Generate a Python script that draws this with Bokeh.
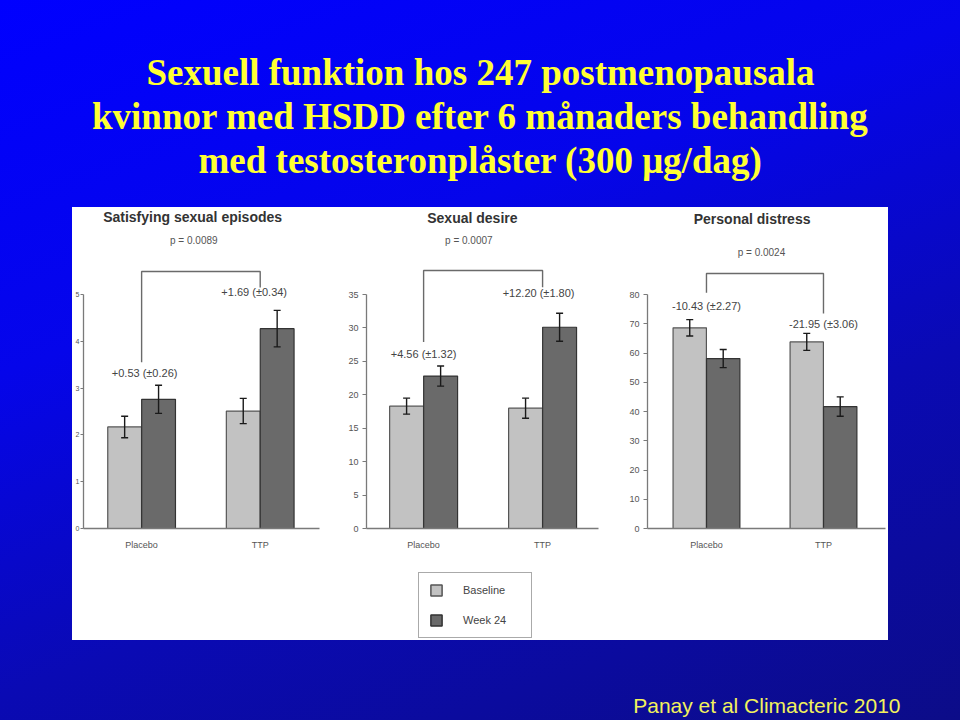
from bokeh.plotting import figure
from bokeh.layouts import row, column, Spacer
from bokeh.models import (ColumnDataSource, Range1d, FixedTicker, Whisker, TeeHead,
                          Legend, LegendItem)
from bokeh.core.properties import value
from bokeh.embed import file_html
from bokeh.resources import INLINE

# ---------------- data ----------------
title_lines = ["Sexuell funktion hos 247 postmenopausala",
               "kvinnor med HSDD efter 6 månaders behandling",
               "med testosteronplåster (300 μg/dag)"]
citation = "Panay et al Climacteric 2010"

groups = ["Placebo", "TTP"]
series_names = ["Baseline", "Week 24"]
panel_titles = ["Satisfying sexual episodes", "Sexual desire", "Personal distress"]
p_values = ["p = 0.0089", "p = 0.0007", "p = 0.0024"]

sse_baseline = [2.17, 2.51]
sse_baseline_err = [0.23, 0.27]
sse_week24 = [2.76, 4.27]
sse_week24_err = [0.30, 0.39]
sse_change = ["+0.53 (±0.26)", "+1.69 (±0.34)"]

desire_baseline = [18.3, 18.0]
desire_baseline_err = [1.2, 1.5]
desire_week24 = [22.8, 30.1]
desire_week24_err = [1.5, 2.1]
desire_change = ["+4.56 (±1.32)", "+12.20 (±1.80)"]

distress_baseline = [68.6, 63.8]
distress_baseline_err = [2.8, 2.9]
distress_week24 = [58.1, 41.7]
distress_week24_err = [3.1, 3.3]
distress_change = ["-10.43 (±2.27)", "-21.95 (±3.06)"]

y_max = [5, 35, 80]
y_step = [1, 5, 10]

# ---------------- styles / layout ----------------
SANS = "Liberation Sans"
SERIF = "Liberation Serif"
BASE_FILL, BASE_LINE = "#c2c2c2", "#555555"
WK_FILL, WK_LINE = "#6a6a6a", "#333333"
AXIS_C = "#7a7a7a"
TEXT_C = "#444444"

FIG_W = [268, 275, 273]
BORDER_L = [7, 26, 32]
BORDER_R = [21, 17, 3]
X_RANGES = [(-0.49, 1.50), (-0.48, 1.47), (-0.504, 1.53)]
FIG_H, BORDER_B = 350, 29
FRAME_H = FIG_H - BORDER_B
AXIS_PX = 234            # pixel height of the labelled axis span
BAR_W = 0.285
DODGE = 0.143

TITLE_X = [0.43, 0.41, 0.39]
TITLE_OFF = [9, 10, 11]
P_X = [0.44, 0.38, 0.47]
P_OFF = [33, 33, 45]
LABEL_UP = [[12, 18], [12, 20], [14, 9]]      # px above highest error bar
LABEL_DX = [[3, -6], [0, -4], [0, 0]]
BRACKET_TOP = [64, 63, 66]                    # px below frame top
BRACKET_GAP = [[11, 5], [12, 6], [13, 11]]    # px above label centre

datasets = [
    (sse_baseline, sse_baseline_err, sse_week24, sse_week24_err, sse_change),
    (desire_baseline, desire_baseline_err, desire_week24, desire_week24_err, desire_change),
    (distress_baseline, distress_baseline_err, distress_week24, distress_week24_err, distress_change),
]


def make_chart(k):
    base, base_err, wk, wk_err, changes = datasets[k]
    ymax = y_max[k]
    ppu = AXIS_PX / ymax
    y_end = FRAME_H / ppu
    p = figure(width=FIG_W[k], height=FIG_H, x_range=Range1d(*X_RANGES[k]),
               y_range=Range1d(0, y_end), output_backend="svg", toolbar_location=None,
               min_border=0)
    p.min_border_left = BORDER_L[k]
    p.min_border_right = BORDER_R[k]
    p.min_border_bottom = BORDER_B
    p.min_border_top = 0
    p.border_fill_color = "white"
    p.background_fill_color = "white"
    p.outline_line_color = None
    p.grid.visible = False

    idx = list(range(len(groups)))
    src = ColumnDataSource(dict(
        xb=[i - DODGE for i in idx], xw=[i + DODGE for i in idx],
        base=base, wk=wk,
        base_lo=[v - e for v, e in zip(base, base_err)],
        base_hi=[v + e for v, e in zip(base, base_err)],
        wk_lo=[v - e for v, e in zip(wk, wk_err)],
        wk_hi=[v + e for v, e in zip(wk, wk_err)],
    ))
    p.vbar(x="xb", top="base", width=BAR_W, source=src, fill_color=BASE_FILL,
           line_color=BASE_LINE, line_width=1.2)
    p.vbar(x="xw", top="wk", width=BAR_W, source=src, fill_color=WK_FILL,
           line_color=WK_LINE, line_width=1.2)
    for b, lo, hi in (("xb", "base_lo", "base_hi"), ("xw", "wk_lo", "wk_hi")):
        w = Whisker(source=src, base=b, lower=lo, upper=hi, dimension="height",
                    line_color="#1a1a1a", line_width=1.4, level="overlay",
                    upper_head=TeeHead(size=7, line_color="#1a1a1a", line_width=1.4),
                    lower_head=TeeHead(size=7, line_color="#1a1a1a", line_width=1.4))
        p.add_layout(w)

    # change labels above each group
    tops = [max(b + be, w + we) for b, be, w, we in zip(base, base_err, wk, wk_err)]
    lab_y = [t + up / ppu for t, up in zip(tops, LABEL_UP[k])]
    lab_src = ColumnDataSource(dict(x=idx, y=lab_y, t=changes, dx=LABEL_DX[k]))
    p.text(x="x", y="y", text="t", x_offset="dx", source=lab_src,
           text_align="center", text_baseline="middle", text_font=value(SANS),
           text_font_size="11px", text_color=TEXT_C)

    # bracket linking the two groups
    top_y = y_end - BRACKET_TOP[k] / ppu
    ends = [ly + g / ppu for ly, g in zip(lab_y, BRACKET_GAP[k])]
    p.line(x=[idx[0], idx[0], idx[1], idx[1]], y=[ends[0], top_y, top_y, ends[1]],
           line_color="#6a6a6a", line_width=1.4)

    # panel title and p-value
    p.text(x=[TITLE_X[k]], y=[y_end], text=[panel_titles[k]], y_offset=TITLE_OFF[k],
           text_align="center", text_baseline="middle", text_font=value(SANS),
           text_font_style="bold", text_font_size="14px", text_color="#333333")
    p.text(x=[P_X[k]], y=[y_end], text=[p_values[k]], y_offset=P_OFF[k],
           text_align="center", text_baseline="middle", text_font=value(SANS),
           text_font_size="10px", text_color="#555555")

    # axes
    p.yaxis.ticker = FixedTicker(ticks=list(range(0, ymax + 1, y_step[k])))
    p.yaxis.bounds = (0, ymax)
    p.yaxis.axis_line_color = AXIS_C
    p.yaxis.axis_line_width = 1.3
    p.yaxis.major_tick_line_color = AXIS_C
    p.yaxis.major_tick_out = 4
    p.yaxis.major_tick_in = 0
    p.yaxis.minor_tick_line_color = None
    p.yaxis.major_label_text_font = SANS
    p.yaxis.major_label_text_font_size = "9px"
    p.yaxis.major_label_text_color = "#555555"
    p.yaxis.major_label_standoff = 4
    if k == 0:
        # labels of the first panel are mostly cut off at the panel edge
        p.yaxis.major_tick_out = 3
        p.yaxis.major_label_standoff = 1
        p.yaxis.major_label_text_font_size = "7px"

    p.xaxis.ticker = FixedTicker(ticks=idx)
    p.xaxis.major_label_overrides = {i: g for i, g in zip(idx, groups)}
    p.xaxis.axis_line_color = AXIS_C
    p.xaxis.axis_line_width = 1.3
    p.xaxis.major_tick_line_color = None
    p.xaxis.minor_tick_line_color = None
    p.xaxis.major_label_text_font = SANS
    p.xaxis.major_label_text_font_size = "9px"
    p.xaxis.major_label_text_color = "#555555"
    p.xaxis.major_label_standoff = 5
    return p


charts = [make_chart(k) for k in range(3)]

# legend panel
nan = float("nan")
lg = figure(width=sum(FIG_W), height=83, x_range=Range1d(0, 1), y_range=Range1d(0, 1),
            output_backend="svg", toolbar_location=None, min_border=0,
            x_axis_location=None, y_axis_location=None)
lg.grid.visible = False
lg.outline_line_color = None
lg.border_fill_color = "white"
lg.background_fill_color = "white"
r1 = lg.quad(left=[nan], right=[nan], top=[nan], bottom=[nan], fill_color=BASE_FILL,
             line_color=BASE_LINE, line_width=1.5)
r2 = lg.quad(left=[nan], right=[nan], top=[nan], bottom=[nan], fill_color=WK_FILL,
             line_color=WK_LINE, line_width=1.5)
legend = Legend(items=[LegendItem(label=series_names[0], renderers=[r1]),
                       LegendItem(label=series_names[1], renderers=[r2])],
                location=(346, 2), orientation="vertical", padding=10, spacing=16,
                margin=0, glyph_width=14, glyph_height=14, label_standoff=20,
                label_width=58, label_height=14, border_line_color="#555555",
                border_line_width=1, label_text_font=SANS, label_text_font_size="11px",
                label_text_color=TEXT_C, background_fill_color="white")
lg.add_layout(legend, "center")

# title band
tf = figure(width=960, height=207, x_range=Range1d(0, 960), y_range=Range1d(207, 0),
            output_backend="svg", toolbar_location=None, min_border=0,
            x_axis_location=None, y_axis_location=None)
tf.grid.visible = False
tf.outline_line_color = None
tf.border_fill_color = None
tf.background_fill_color = None
tf.text(x=[480] * 3, y=[72, 116, 160], text=title_lines, text_align="center",
        text_baseline="alphabetic", text_font=value(SERIF), text_font_style="bold",
        text_font_size="37px", text_color="#FFFF33")

# bottom band with citation
bf = figure(width=960, height=80, x_range=Range1d(0, 960), y_range=Range1d(720, 640),
            output_backend="svg", toolbar_location=None, min_border=0,
            x_axis_location=None, y_axis_location=None)
bf.grid.visible = False
bf.outline_line_color = None
bf.border_fill_color = None
bf.background_fill_color = None
bf.text(x=[900], y=[705], text=[citation], text_align="right",
        text_baseline="alphabetic", text_font=value(SANS), text_font_size="21px",
        text_color="#F2F25C")

panel = column(row(*charts), lg, styles={"background": "white"})
middle = row(Spacer(width=72, height=433), panel, Spacer(width=72, height=433))

page = column(tf, middle, bf, width=960, height=720,
              styles={"background": "linear-gradient(160deg, #0000ff 0%, #0505ea 35%, "
                                    "#0a0ab4 65%, #0c0c88 100%)"})

open("out.html", "w").write(file_html(page, INLINE))
